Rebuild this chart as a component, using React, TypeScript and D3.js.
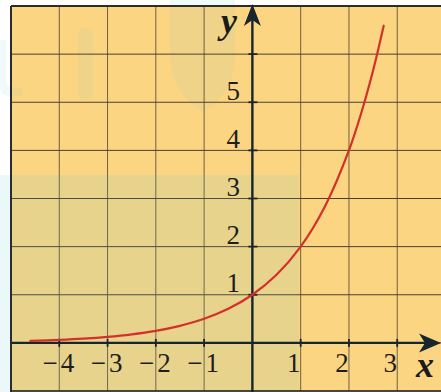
import React from "react";
import * as d3 from "d3";

// Plotted points of y = 2^x
const curveX = [-4.6, -4, -3.5, -3, -2.5, -2, -1.5, -1, -0.5, 0, 0.5, 1, 1.5, 2, 2.25, 2.5, 2.72];
const curveY = [0.041, 0.0625, 0.088, 0.125, 0.177, 0.25, 0.354, 0.5, 0.707, 1, 1.414, 2, 2.83, 4, 4.76, 5.66, 6.59];

const xTickLabels = [-4, -3, -2, -1, 1, 2, 3];
const yTickLabels = [1, 2, 3, 4, 5];
const yTickMarks = [1, 2, 3, 4, 5, 6];
const xGridValues = [-5, -4, -3, -2, -1, 0, 1, 2, 3, 4];
const yGridValues = [-1, 0, 1, 2, 3, 4, 5, 6, 7];

const W = 441;
const H = 392;

export default function App() {
  const x = d3.scaleLinear().domain([-5, 4]).range([11, 445.5]);
  const y = d3.scaleLinear().domain([-1, 7]).range([391, 6]);

  const pts: [number, number][] = curveX.map((v, i) => [v, curveY[i]]);
  const line = d3
    .line<[number, number]>()
    .x((d) => x(d[0]))
    .y((d) => y(d[1]))
    .curve(d3.curveCatmullRom.alpha(0.5));

  const x0 = x(0);
  const y0 = y(0);
  const axisColor = "#17252c";
  const serif = "'Liberation Serif', 'Times New Roman', serif";
  const fmt = (v: number) => (v < 0 ? "\u2212" + Math.abs(v) : String(v));

  // arrowheads
  const yTip = 4;
  const yArrow = `M${x0},${yTip} L${x0 + 8.5},${yTip + 22} L${x0},${yTip + 16} L${x0 - 8.5},${yTip + 22} Z`;
  const xTip = 441;
  const xArrow = `M${xTip},${y0} L${xTip - 22},${y0 + 9.5} L${xTip - 16},${y0} L${xTip - 22},${y0 - 9.5} Z`;

  return (
    <svg
      width={W}
      height={H}
      viewBox={`0 0 ${W} ${H}`}
      style={{ position: "absolute", left: 0, top: 0, display: "block" }}
    >
      <rect x={0} y={0} width={W} height={H} fill="#ffffff" />
      {/* plotting area */}
      <rect x={x(-5)} y={y(7)} width={W - x(-5)} height={y(-1) - y(7)} fill="#fcd582" />

      {/* faint background shapes */}
      <g fill="#5dc5d5" opacity={0.08}>
        <rect x={78} y={28} width={15} height={72} rx={7} />
        <path d="M0,40 L6,40 L6,80 Q6,88 14,88 L22,88 L22,96 L10,96 Q0,96 0,86 Z" />
        <path d="M170,0 L235,0 L235,60 Q232,95 203,112 Q174,95 170,60 Z" />
      </g>

      {/* grid */}
      <g>
        {xGridValues.map((v) => (
          <line key={"gx" + v} x1={x(v)} x2={x(v)} y1={y(7)} y2={y(-1)} stroke="#6f603e" strokeWidth={1} />
        ))}
        {yGridValues.map((v) => (
          <line key={"gy" + v} x1={x(-5)} x2={W} y1={y(v)} y2={y(v)} stroke="#4a402c" strokeWidth={1} />
        ))}
      </g>

      {/* lower left tint band */}
      <rect x={0} y={175} width={299} height={H - 175} fill="#5dc5d5" opacity={0.12} />

      {/* frame */}
      <line x1={x(-5)} x2={W} y1={y(7)} y2={y(7)} stroke="#2b2b2b" strokeWidth={2} />
      <line x1={x(-5)} x2={x(-5)} y1={y(7)} y2={H} stroke="#2b2b2b" strokeWidth={2} />
      <line x1={x(-5)} x2={W} y1={y(-1)} y2={y(-1)} stroke="#2b2b2b" strokeWidth={1.5} />

      {/* axes */}
      <line x1={x(-5)} x2={xTip - 14} y1={y0} y2={y0} stroke={axisColor} strokeWidth={2.4} />
      <line x1={x0} x2={x0} y1={H} y2={yTip + 14} stroke={axisColor} strokeWidth={2.4} />
      <path d={yArrow} fill={axisColor} />
      <path d={xArrow} fill={axisColor} />

      {/* tick marks */}
      {xTickLabels.map((v) => (
        <line key={"tx" + v} x1={x(v)} x2={x(v)} y1={y0 - 4} y2={y0 + 4} stroke={axisColor} strokeWidth={1.8} />
      ))}
      {yTickMarks.map((v) => (
        <line key={"ty" + v} x1={x0 - 4} x2={x0 + 5} y1={y(v)} y2={y(v)} stroke={axisColor} strokeWidth={1.8} />
      ))}

      {/* curve */}
      <path d={line(pts) || ""} fill="none" stroke="#d4302a" strokeWidth={2.2} strokeLinecap="round" />

      {/* tick labels */}
      <g fontFamily={serif} fontSize={27} fill="#1e1e1e">
        {xTickLabels.map((v) => (
          <text key={"lx" + v} x={v < 0 ? x(v) - 1 : x(v) - 7} y={y0 + 29} textAnchor="middle">
            {v < 0 ? (
              <>
                <tspan>{"\u2212"}</tspan>
                <tspan dx={3}>{Math.abs(v)}</tspan>
              </>
            ) : (
              fmt(v)
            )}
          </text>
        ))}
        {yTickLabels.map((v) => (
          <text key={"ly" + v} x={240} y={y(v) - 2.5} textAnchor="end">
            {fmt(v)}
          </text>
        ))}
      </g>

      {/* axis names */}
      <text x={229} y={33} fontFamily={serif} fontSize={36} fontStyle="italic" fontWeight="bold" fill="#1a1a1a" textAnchor="middle">
        y
      </text>
      <text x={425} y={377} fontFamily={serif} fontSize={36} fontStyle="italic" fontWeight="bold" fill="#1a1a1a" textAnchor="middle">
        x
      </text>
    </svg>
  );
}
